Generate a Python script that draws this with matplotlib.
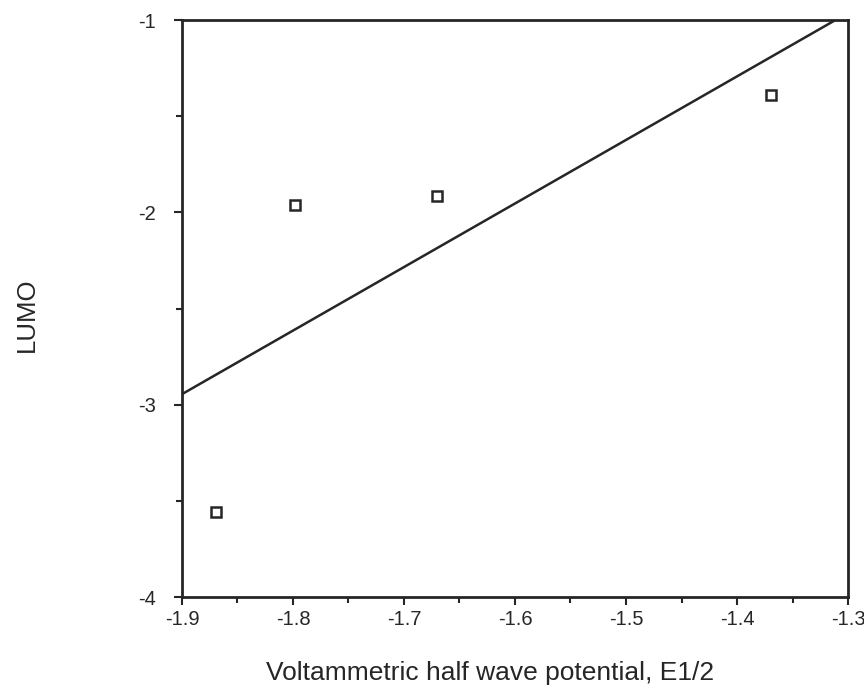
import numpy as np
import matplotlib.pyplot as plt
from matplotlib.ticker import MultipleLocator

# half wave potentials (V) and LUMO energies
e_half = [-1.869, -1.798, -1.670, -1.369]
lumo = [-3.56, -1.962, -1.915, -1.39]

x_ticks = [-1.9, -1.8, -1.7, -1.6, -1.5, -1.4, -1.3]
y_ticks = [-4, -3, -2, -1]

plt.rcParams['font.family'] = ['Liberation Sans', 'DejaVu Sans']

fig = plt.figure(figsize=(8.64, 7.0), dpi=100)
ax = fig.add_axes([0.2106, 0.1471, 0.7709, 0.8243])

ink = '#262626'

# least squares line through the points
slope, icpt = np.polyfit(e_half, lumo, 1)
xs = np.array([x_ticks[0], x_ticks[-1]])
ax.plot(xs, slope * xs + icpt, color=ink, lw=1.8)

ax.plot(e_half, lumo, linestyle='none', marker='s', markersize=7,
        markerfacecolor='white', markeredgecolor=ink, markeredgewidth=1.8)

ax.set_xlim(-1.9, -1.3)
ax.set_ylim(-4, -1)
ax.set_xticks(x_ticks)
ax.set_xticklabels([f'{v:.1f}' for v in x_ticks])
ax.set_yticks(y_ticks)
ax.set_yticklabels([str(v) for v in y_ticks])
ax.xaxis.set_minor_locator(MultipleLocator(0.05))
ax.yaxis.set_minor_locator(MultipleLocator(0.5))

for s in ax.spines.values():
    s.set_linewidth(2.0)
    s.set_color(ink)

ax.tick_params(which='both', direction='out', width=1.5, color=ink,
               labelsize=14.5, labelcolor=ink)
ax.tick_params(which='major', length=6)
ax.tick_params(which='minor', length=4.5)
ax.tick_params(axis='y', pad=13)
ax.tick_params(axis='x', pad=3)

ax.set_xlabel('Voltammetric half wave potential, E1/2', fontsize=19, color=ink)
ax.xaxis.set_label_coords(0.463, -0.11)
ax.set_ylabel('LUMO', fontsize=18.5, color=ink)
ax.yaxis.set_label_coords(-0.215, 0.49)

fig.savefig('out.png', dpi=100)
